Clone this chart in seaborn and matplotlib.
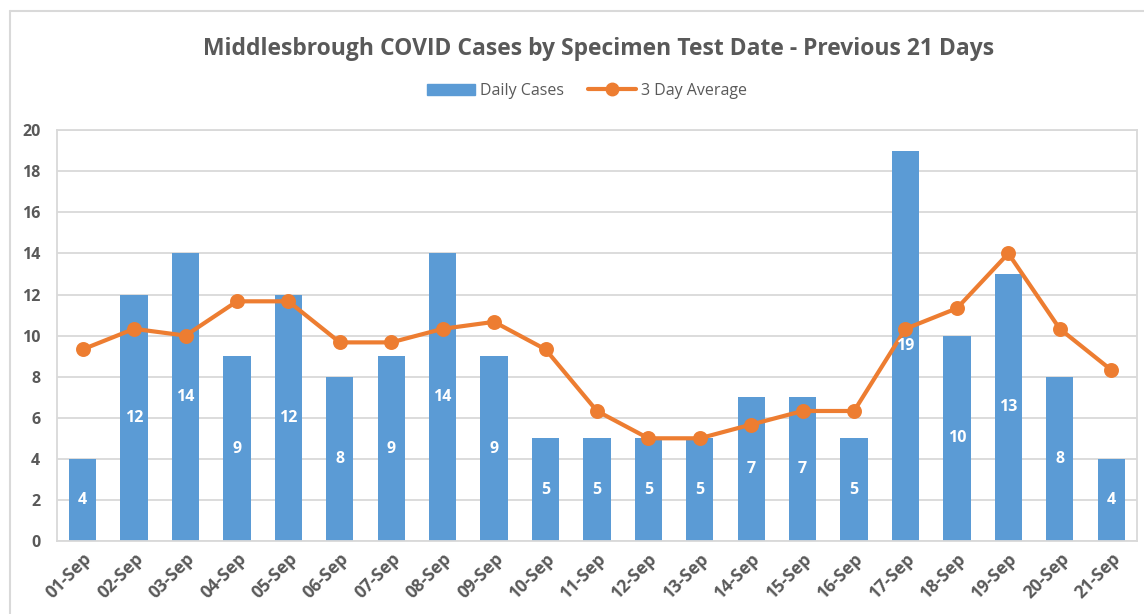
import matplotlib.pyplot as plt
import seaborn as sns
from matplotlib.lines import Line2D

dates = ['01-Sep', '02-Sep', '03-Sep', '04-Sep', '05-Sep', '06-Sep', '07-Sep',
         '08-Sep', '09-Sep', '10-Sep', '11-Sep', '12-Sep', '13-Sep', '14-Sep',
         '15-Sep', '16-Sep', '17-Sep', '18-Sep', '19-Sep', '20-Sep', '21-Sep']
daily = [4, 12, 14, 9, 12, 8, 9, 14, 9, 5, 5, 5, 5, 7, 7, 5, 19, 10, 13, 8, 4]
avg3 = [9.33, 10.33, 10.0, 11.67, 11.67, 9.67, 9.67, 10.33, 10.67, 9.33, 6.33,
        5.0, 5.0, 5.67, 6.33, 6.33, 10.33, 11.33, 14.0, 10.33, 8.33]

sns.set_style('white')
plt.rcParams['font.family'] = ['Open Sans', 'DejaVu Sans']

blue = '#5B9BD5'
orange = '#ED7D31'
grey = '#595959'
light = '#D9D9D9'

fig = plt.figure(figsize=(11.44, 6.14), dpi=100)
ax = fig.add_axes([0.0498, 0.1189, 0.944, 0.669])

sns.barplot(x=dates, y=daily, color=blue, width=0.53, saturation=1, ax=ax,
            linewidth=0, label='Daily Cases')
sns.pointplot(x=dates, y=avg3, color=orange, ax=ax,
              markersize=8.5, linewidth=3, label='3 Day Average')

for i, v in enumerate(daily):
    ax.text(i, v / 2, str(v), ha='center', va='center', color='white',
            fontsize=11.5, fontweight='bold')

ax.set_ylim(0, 20)
ax.set_yticks(range(0, 21, 2))
ax.set_xlim(-0.5, len(dates) - 0.5)
ax.grid(axis='y', color=light, linewidth=1.3)
ax.set_axisbelow(True)
for s in ax.spines.values():
    s.set_color(light)
    s.set_linewidth(1.3)
ax.tick_params(axis='both', length=0, colors=grey)
ax.tick_params(axis='y', pad=12, labelsize=11.5)
ax.tick_params(axis='x', pad=6, labelsize=12.5)
plt.setp(ax.get_xticklabels(), rotation=45, ha='right', rotation_mode='anchor',
         fontweight='bold')
plt.setp(ax.get_yticklabels(), fontweight='bold')
ax.set_xlabel('')
ax.set_ylabel('')
if ax.get_legend():
    ax.get_legend().remove()

fig.text(0.523, 0.92, 'Middlesbrough COVID Cases by Specimen Test Date - Previous 21 Days',
         ha='center', va='center', fontsize=16.5, fontweight='bold', color=grey)

handles = [plt.Rectangle((0, 0), 1, 1, color=blue),
           Line2D([], [], color=orange, marker='o', linewidth=3, markersize=9)]
leg = fig.legend(handles, ['Daily Cases', '3 Day Average'], loc='center',
                 bbox_to_anchor=(0.513, 0.852), ncol=2, frameon=False,
                 fontsize=11.5, handlelength=3, columnspacing=1.5,
                 handletextpad=0.3)
for t in leg.get_texts():
    t.set_color(grey)

# outer chart border
fig.add_artist(Line2D([10 / 1144, 1.0], [1 - 11 / 614, 1 - 11 / 614],
                      transform=fig.transFigure, color=light, linewidth=1.5))
fig.add_artist(Line2D([10 / 1144, 10 / 1144], [0.0, 1 - 11 / 614],
                      transform=fig.transFigure, color=light, linewidth=1.5))

fig.savefig('out.png', dpi=100, facecolor='white')
